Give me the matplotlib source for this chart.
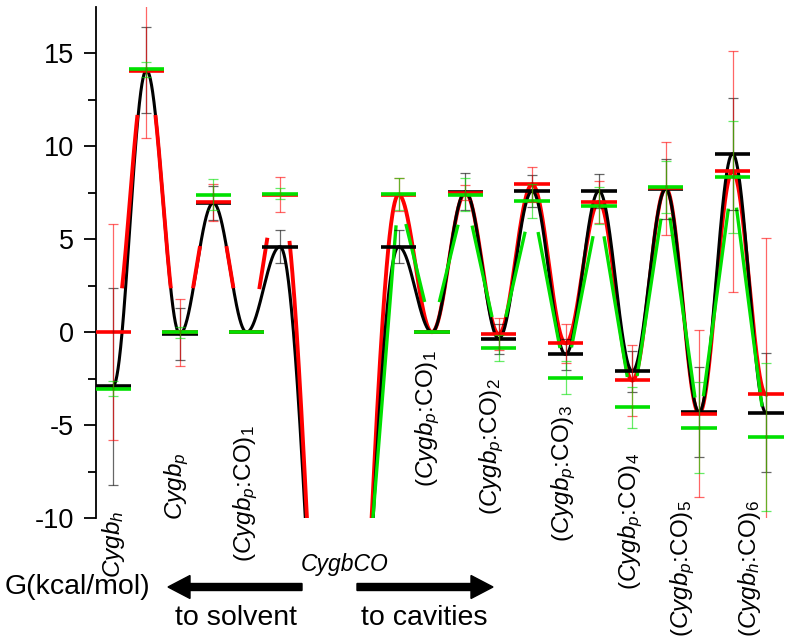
import numpy as np
import matplotlib.pyplot as plt
from matplotlib.patches import FancyArrow

plt.rcParams['font.family'] = ['Liberation Sans', 'DejaVu Sans']
plt.rcParams['mathtext.fontset'] = 'custom'
plt.rcParams['mathtext.rm'] = 'Liberation Sans'
plt.rcParams['mathtext.it'] = 'Liberation Sans:italic'
plt.rcParams['axes.unicode_minus'] = False

# states along the path: minimum, barrier, minimum, ...
# left branch (towards solvent) and right branch (towards cavities), joined by CygbCO
pos_left = [0, 1, 2, 3, 4, 5]
pos_co = 6.77
pos_right = [8.55, 9.55, 10.55, 11.55, 12.55, 13.55, 14.55, 15.55, 16.55, 17.55, 18.55, 19.55]
co_depth = -33.0  # CygbCO well, falls off the bottom of the axis

red_left = [0.0, 14.05, 0.0, 7.0, 0.0, 7.4]
black_left = [-2.9, 14.1, -0.1, 6.95, 0.0, 4.6]
green_left = [-3.05, 14.15, 0.0, 7.4, 0.0, 7.45]

red_right = [7.4, 0.0, 7.5, -0.1, 7.95, -0.6, 7.0, -2.6, 7.75, -4.38, 8.65, -3.35]
black_right = [4.6, 0.0, 7.55, -0.35, 7.6, -1.2, 7.6, -2.1, 7.7, -4.3, 9.6, -4.33]
green_right = [7.45, 0.0, 7.4, -0.85, 7.07, -2.45, 6.8, -4.05, 7.8, -5.15, 8.35, -5.65]

err_red_left = [5.8, 3.6, 1.8, 1.0, 0.0, 0.95]
err_black_left = [5.3, 2.3, 1.4, 0.9, 0.0, 0.9]
err_green_left = [0.4, 0.4, 0.3, 0.85, 0.0, 0.3]

err_red_right = [0.9, 0.0, 0.4, 0.85, 0.95, 1.05, 1.15, 1.9, 2.5, 4.5, 6.5, 8.4]
err_black_right = [0.9, 0.0, 1.0, 0.8, 0.85, 0.85, 0.9, 1.1, 1.6, 2.4, 3.0, 3.2]
err_green_right = [0.85, 0.0, 0.9, 0.7, 0.9, 0.9, 1.0, 1.1, 1.4, 2.45, 3.0, 4.0]

labels = [r'$\mathit{Cygb}_{\mathit{h}}$',
          r'$\mathit{Cygb}_{\mathit{p}}$',
          r'($\mathit{Cygb}_{\mathit{p}}$:CO)$_{\mathit{1}}$',
          r'($\mathit{Cygb}_{\mathit{p}}$:CO)$_1$',
          r'($\mathit{Cygb}_{\mathit{p}}$:CO)$_2$',
          r'($\mathit{Cygb}_{\mathit{p}}$:CO)$_3$',
          r'($\mathit{Cygb}_{\mathit{p}}$:CO)$_4$',
          r'($\mathit{Cygb}_{\mathit{p}}$:CO)$_5$',
          r'($\mathit{Cygb}_{\mathit{h}}$:CO)$_6$']
label_x = [0.0, 1.9, 3.98, 9.42, 11.34, 13.5, 15.5, 17.05, 19.07]
label_top = [-9.6, -6.45, -5.0, -0.97, -2.5, -3.93, -6.47, -9.05, -9.05]

RED = '#ff0000'
GREEN = '#00e000'
BLACK = '#000000'


def level_path(xs, ys, gap=0.0, smooth=True, n=120):
    # connection between consecutive levels (cosine-shaped or straight);
    # with gap > 0 the stroke stops that far (kcal/mol) short of each level
    px, py = [], []
    for x0, x1, y0, y1 in zip(xs[:-1], xs[1:], ys[:-1], ys[1:]):
        t = np.linspace(0, 1, n)
        x = x0 + (x1 - x0) * t
        w = (1 - np.cos(np.pi * t)) / 2 if smooth else t
        y = y0 + (y1 - y0) * w
        if gap > 0:
            y = np.where((np.abs(y - y0) > gap) & (np.abs(y - y1) > gap), y, np.nan)
            x = np.append(x, np.nan)
            y = np.append(y, np.nan)
        px.append(x)
        py.append(y)
    return np.concatenate(px), np.concatenate(py)


fig = plt.figure(figsize=(7.92, 6.39), dpi=100)
ax = fig.add_axes([96 / 792, 121 / 639, 696 / 792, 511 / 639])

left_x = pos_left + [pos_co]
right_x = [pos_co] + pos_right

# black: continuous everywhere
for xs, ys in [(left_x, black_left + [co_depth]), (right_x, [co_depth] + black_right)]:
    px, py = level_path(xs, ys)
    ax.plot(px, py, color=BLACK, lw=2.2, zorder=3)

# red: continuous under black on the cavity side, broken strokes over black on the solvent side
px, py = level_path(right_x, [co_depth] + red_right)
ax.plot(px, py, color=RED, lw=2.8, zorder=2)
px, py = level_path(left_x, red_left + [co_depth], gap=2.3)
ax.plot(px, py, color=RED, lw=2.8, zorder=4, solid_capstyle='butt')

# green: straight broken strokes on the cavity side only
px, py = level_path(right_x, [co_depth] + green_right, gap=1.6, smooth=False)
ax.plot(px, py, color=GREEN, lw=2.4, zorder=4, solid_capstyle='butt')

series = [
    (black_left, black_right, err_black_left, err_black_right, BLACK, 5),
    (red_left, red_right, err_red_left, err_red_right, RED, 6),
    (green_left, green_right, err_green_left, err_green_right, GREEN, 7),
]
for vl, vr, el, er, col, z in series:
    xs = np.array(pos_left + pos_right, dtype=float)
    ys = np.array(vl + vr)
    es = np.array(el + er)
    ax.hlines(ys, xs - 0.53, xs + 0.53, color=col, lw=2.6, zorder=z)
    m = es > 0
    ax.errorbar(xs[m], ys[m], yerr=es[m], fmt='none', ecolor=col, elinewidth=0.9,
                capsize=3.6, capthick=0.9, alpha=0.6, zorder=8)

for txt, lx, ly in zip(labels, label_x, label_top):
    ax.text(lx, ly, txt, rotation=90, ha='center', va='top', fontsize=17.5, clip_on=False)

ax.set_xlim(-0.51, 20.33)
ax.set_ylim(-10, 17.5)
for s in ['top', 'right', 'bottom']:
    ax.spines[s].set_visible(False)
ax.spines['left'].set_linewidth(1.3)
ax.set_xticks([])
ax.set_yticks([-10, -5, 0, 5, 10, 15])
ax.set_yticks(np.arange(-7.5, 17.5, 5), minor=True)
ax.tick_params(axis='y', which='major', length=9, width=1.3, labelsize=19.5, pad=7)
ax.tick_params(axis='y', which='minor', length=6, width=1.3)
ax.patch.set_visible(False)

fig.text(5 / 792, 52 / 639, 'G(kcal/mol)', fontsize=20.5, va='center', ha='left')
fig.text(236 / 792, 21 / 639, 'to solvent', fontsize=20.5, va='center', ha='center')
fig.text(424 / 792, 21 / 639, 'to cavities', fontsize=20.5, va='center', ha='center')
fig.text(345 / 792, 74 / 639, 'CygbCO', fontsize=16.5, style='italic', va='center', ha='center')

fig.add_artist(FancyArrow(302 / 792, 52 / 639, -134 / 792, 0, width=7 / 639,
                          head_width=23 / 639, head_length=22 / 792,
                          length_includes_head=True, color='black', transform=fig.transFigure))
fig.add_artist(FancyArrow(357 / 792, 52 / 639, 136 / 792, 0, width=7 / 639,
                          head_width=23 / 639, head_length=22 / 792,
                          length_includes_head=True, color='black', transform=fig.transFigure))

fig.savefig('out.png', dpi=100)
